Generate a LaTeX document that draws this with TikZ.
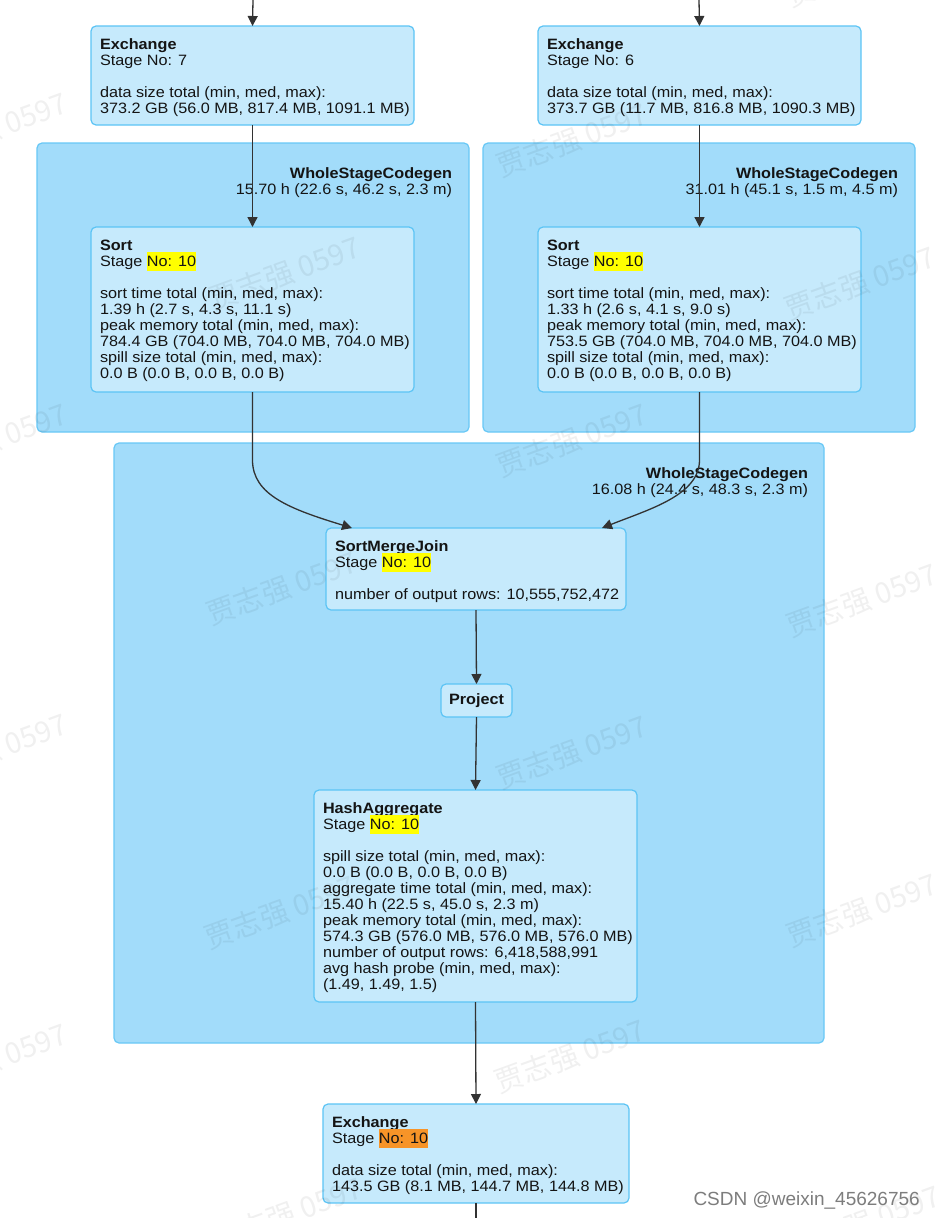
\documentclass[tikz,border=0pt]{standalone}
\usepackage{fontspec}
\setmainfont{Liberation Sans}[FakeStretch=1.08]
\newfontfamily\csdnfont{Liberation Sans}
\newfontfamily\cjkwm{Noto Sans CJK SC}
\usetikzlibrary{arrows.meta,calc}
\definecolor{wscfill}{RGB}{162,220,250}
\definecolor{wscdraw}{RGB}{104,200,246}
\definecolor{opfill}{RGB}{198,234,252}
\definecolor{opdraw}{RGB}{92,196,245}
\definecolor{hlyellow}{RGB}{255,255,0}
\definecolor{hlorange}{RGB}{247,148,40}
\definecolor{txt}{RGB}{20,20,20}
\definecolor{edgec}{RGB}{50,50,50}
\definecolor{csdnc}{RGB}{125,125,125}
\newcommand\hlbox[2]{\smash{\setlength\fboxsep{0pt}\colorbox{#1}{\rule[-4.7pt]{0pt}{18.7pt}#2}}}
\tikzset{
  wsc/.style={draw=wscdraw, fill=wscfill, line width=1.2pt, rounded corners=5pt,
    inner sep=0pt, outer sep=0pt, anchor=north west},
  opbox/.style={draw=opdraw, fill=opfill, line width=1.2pt, rounded corners=5pt,
    inner sep=0pt, outer sep=0pt, anchor=north west},
  lbl/.style={anchor=north west, inner sep=0pt, outer sep=0pt, align=left,
    font=\fontsize{15}{16}\selectfont, text=txt},
  wsclbl/.style={lbl, anchor=north east, align=right},
  conn/.style={draw=edgec, line width=1.3pt, -{Triangle[length=10pt,width=10pt]}},
  plain/.style={draw=edgec, line width=1.3pt},
  wm/.style={font=\cjkwm\fontsize{29}{29}\selectfont, rotate=20, text=black,
    text opacity=0.06, inner sep=0pt}
}
\begin{document}
\begin{tikzpicture}[x=1pt,y=-1pt]
\useasboundingbox (0,0) rectangle (936,1218);
\fill[white] (0,0) rectangle (936,1218);

% WholeStageCodegen clusters
\node[wsc, minimum width=432pt, minimum height=289pt] (wscL) at (37,143) {};
\node[wsc, minimum width=432pt, minimum height=289pt] (wscR) at (483,143) {};
\node[wsc, minimum width=710pt, minimum height=600pt] (wscB) at (114,443) {};

% operator boxes
\node[opbox, minimum width=323pt, minimum height=99pt] (exL) at (91,26) {};
\node[opbox, minimum width=323pt, minimum height=99pt] (exR) at (538,26) {};
\node[opbox, minimum width=323pt, minimum height=165pt] (sortL) at (91,227) {};
\node[opbox, minimum width=323pt, minimum height=165pt] (sortR) at (538,227) {};
\node[opbox, minimum width=300pt, minimum height=82pt] (smj) at (326,528) {};
\node[opbox, minimum width=71pt, minimum height=33pt, font=\fontsize{15}{16}\selectfont\bfseries, text=txt] (proj) at (441,684) {Project};
\node[opbox, minimum width=323pt, minimum height=212pt] (hash) at (314,790) {};
\node[opbox, minimum width=306pt, minimum height=99pt] (exB) at (323,1104) {};

% cluster labels
\node[wsclbl] (wscLl) at ($(wscL.north east)+(-17,23)$) {\rule{0pt}{12pt}\textbf{WholeStageCodegen}\\ 15.70 h (22.6 s, 46.2 s, 2.3 m)};
\node[wsclbl] (wscRl) at ($(wscR.north east)+(-17,23)$) {\rule{0pt}{12pt}\textbf{WholeStageCodegen}\\ 31.01 h (45.1 s, 1.5 m, 4.5 m)};
\node[wsclbl] (wscBl) at ($(wscB.north east)+(-16,23)$) {\rule{0pt}{12pt}\textbf{WholeStageCodegen}\\ 16.08 h (24.4 s, 48.3 s, 2.3 m)};

% box texts
\node[lbl] (exLt) at ($(exL.north west)+(9,11)$) {\rule{0pt}{12pt}\textbf{Exchange}\\ Stage No: 7\\[16pt] data size total (min, med, max):\\ 373.2 GB (56.0 MB, 817.4 MB, 1091.1 MB)};
\node[lbl] (exRt) at ($(exR.north west)+(9,11)$) {\rule{0pt}{12pt}\textbf{Exchange}\\ Stage No: 6\\[16pt] data size total (min, med, max):\\ 373.7 GB (11.7 MB, 816.8 MB, 1090.3 MB)};
\node[lbl] (sortLt) at ($(sortL.north west)+(9,11)$) {\rule{0pt}{12pt}\textbf{Sort}\\ Stage \hlbox{hlyellow}{No: 10}\\[16pt] sort time total (min, med, max):\\ 1.39 h (2.7 s, 4.3 s, 11.1 s)\\ peak memory total (min, med, max):\\ 784.4 GB (704.0 MB, 704.0 MB, 704.0 MB)\\ spill size total (min, med, max):\\ 0.0 B (0.0 B, 0.0 B, 0.0 B)};
\node[lbl] (sortRt) at ($(sortR.north west)+(9,11)$) {\rule{0pt}{12pt}\textbf{Sort}\\ Stage \hlbox{hlyellow}{No: 10}\\[16pt] sort time total (min, med, max):\\ 1.33 h (2.6 s, 4.1 s, 9.0 s)\\ peak memory total (min, med, max):\\ 753.5 GB (704.0 MB, 704.0 MB, 704.0 MB)\\ spill size total (min, med, max):\\ 0.0 B (0.0 B, 0.0 B, 0.0 B)};
\node[lbl] (smjt) at ($(smj.north west)+(9,11)$) {\rule{0pt}{12pt}\textbf{SortMergeJoin}\\ Stage \hlbox{hlyellow}{No: 10}\\[16pt] number of output rows: 10,555,752,472};
\node[lbl] (hasht) at ($(hash.north west)+(9,11)$) {\rule{0pt}{12pt}\textbf{HashAggregate}\\ Stage \hlbox{hlyellow}{No: 10}\\[16pt] spill size total (min, med, max):\\ 0.0 B (0.0 B, 0.0 B, 0.0 B)\\ aggregate time total (min, med, max):\\ 15.40 h (22.5 s, 45.0 s, 2.3 m)\\ peak memory total (min, med, max):\\ 574.3 GB (576.0 MB, 576.0 MB, 576.0 MB)\\ number of output rows: 6,418,588,991\\ avg hash probe (min, med, max):\\ (1.49, 1.49, 1.5)};
\node[lbl] (exBt) at ($(exB.north west)+(9,11)$) {\rule{0pt}{12pt}\textbf{Exchange}\\ Stage \hlbox{hlorange}{No: 10}\\[16pt] data size total (min, med, max):\\ 143.5 GB (8.1 MB, 144.7 MB, 144.8 MB)};

% connectors
\coordinate (inL) at (253,0);
\coordinate (inR) at (699,0);
\coordinate (outB) at (476,1218);
\coordinate (smjInL) at ($(smj.north west)+(26,0)$);
\coordinate (smjInR) at ($(smj.north east)+(-24,0)$);
\draw[conn] (inL) -- (exL.north);
\draw[conn] (inR) -- (exR.north);
\draw[conn] (exL.south) -- (sortL.north);
\draw[conn] (exR.south) -- (sortR.north);
\draw[conn] (sortL.south) -- ++(0,68) .. controls +(0,35) and +(-62,-19) .. (smjInL);
\draw[conn] (sortR.south) -- ++(0,68) .. controls +(0,35) and +(48,-19) .. (smjInR);
\draw[conn] (smj.south) -- (proj.north);
\draw[conn] (proj.south) -- (hash.north);
\draw[conn] (hash.south) -- (exB.south |- exB.north);
\draw[plain] (exB.south) -- (outB);

% watermarks
\foreach \x/\y [count=\i] in {-8/129, -8/440, -8/750, -8/1060,
  572/140, 572/440, 572/752, 570/1056,
  285/-40, 285/273, 282/588, 280/912, 287/1214,
  862/-30, 860/283, 862/600, 862/910, 865/1222}
  \node[wm] (wm\i) at (\x,\y) {贾志强 0597};

% footer
\node[anchor=base east, inner sep=0pt, font=\csdnfont\fontsize{19}{20}\selectfont, text=csdnc] (csdn) at (920,1205) {CSDN @weixin\_45626756};
\end{tikzpicture}
\end{document}
